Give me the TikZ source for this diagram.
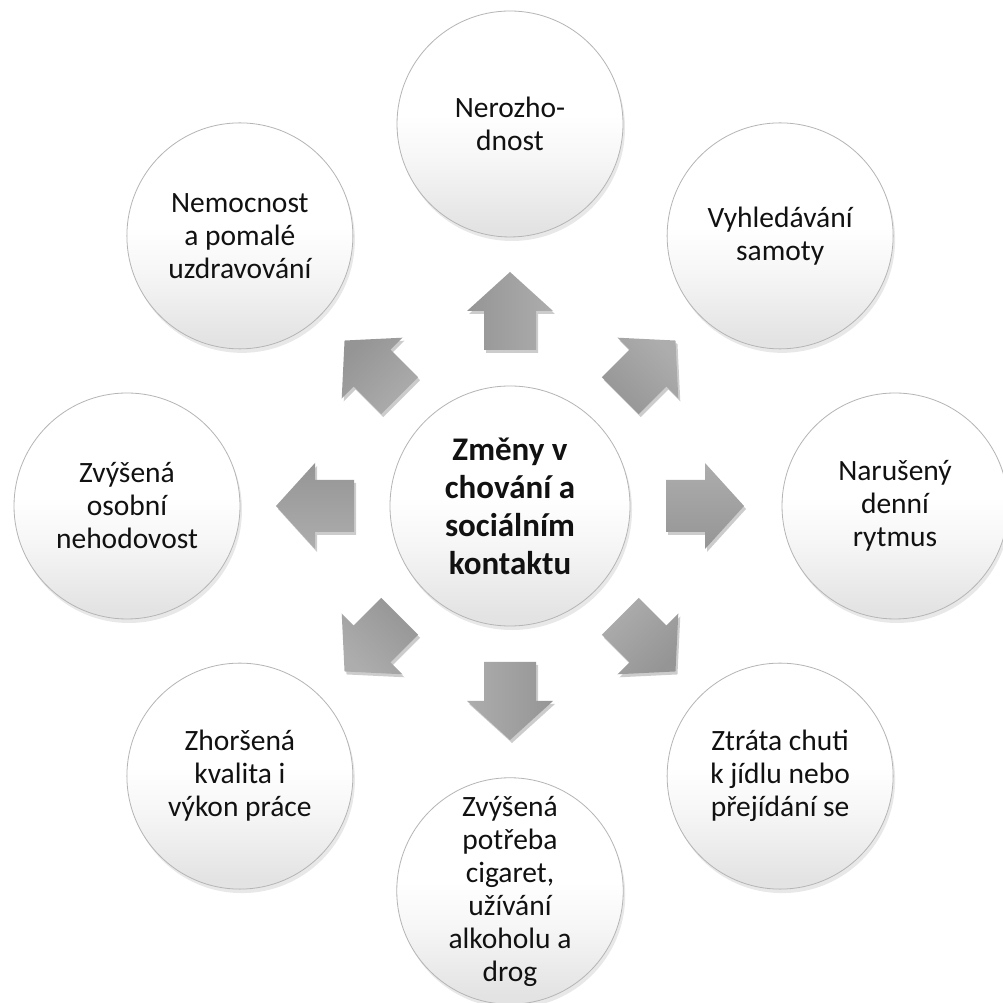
\documentclass[tikz,border=0pt]{standalone}
\usepackage{fontspec}
\setmainfont{Carlito}
\usetikzlibrary{shadows}
\definecolor{arrowtop}{HTML}{ADADAD}
\definecolor{arrowbot}{HTML}{959595}
\definecolor{ringline}{HTML}{B5B5B5}
\definecolor{bubblemid}{HTML}{F6F6F6}
\definecolor{bubblebot}{HTML}{E3E3E3}
\definecolor{textcol}{HTML}{111111}
\pgfdeclareverticalshading{bubbleshade}{100bp}{color(0bp)=(bubblebot); color(27bp)=(bubblebot); color(42bp)=(bubblemid); color(52bp)=(white); color(100bp)=(white)}
\begin{document}
\begin{tikzpicture}[x=1pt,y=1pt,
  bubble/.style={circle, draw=ringline, line width=0.8pt, shading=bubbleshade,
    minimum size=226pt, inner sep=0pt, align=center,
    text=textcol, font=\fontsize{29.5}{33}\selectfont,
    drop shadow={shadow xshift=2pt, shadow yshift=-4pt, opacity=0.18}},
  hub/.style={bubble, minimum size=240pt, font=\bfseries\fontsize{33}{38}\selectfont},
  arrowshadow/.style={fill=black, opacity=0.2, draw=none},
  blockarrow/.style={top color=arrowtop, bottom color=arrowbot, draw=none}
]
\useasboundingbox (0,0) rectangle (1003,1003);
\fill[white] (0,0) rectangle (1003,1003);

\node[hub] (c) at (510,497) {Změny v\\chování a\\sociálním\\kontaktu};

% block arrows
\foreach \a in {90,45,0,-45,-90,-135,180,135}{
  \begin{scope}[shift={(c.center)}, shift={(\a:195)}, shift={(2,-3)}, rotate=\a]
    \fill[arrowshadow] (-39,-26) -- (0,-26) -- (0,-43) -- (39,0) -- (0,43) -- (0,26) -- (-39,26) -- cycle;
  \end{scope}
  \begin{scope}[shift={(c.center)}, shift={(\a:195)}, rotate=\a]
    \shade[blockarrow, shading angle=-\a] (-39,-26) -- (0,-26) -- (0,-43) -- (39,0) -- (0,43) -- (0,26) -- (-39,26) -- cycle;
  \end{scope}
}

% outer bubbles
\path (c.center) ++(90:382) node[bubble] (n1) {Nerozho-\\dnost};
\path (c.center) ++(45:382) node[bubble] (n2) {Vyhledávání\\samoty};
\path (c.center) ++(0:385) node[bubble] (n3) {Narušený\\denní\\rytmus};
\path (c.center) ++(-45:382) node[bubble] (n4) {Ztráta chuti\\k jídlu nebo\\přejídání se};
\path (c.center) ++(-90:385) node[bubble] (n5) {Zvýšená\\potřeba\\cigaret,\\užívání\\alkoholu a\\drog};
\path (c.center) ++(-135:382) node[bubble] (n6) {Zhoršená\\kvalita i\\výkon práce};
\path (c.center) ++(180:383) node[bubble] (n7) {Zvýšená\\osobní\\nehodovost};
\path (c.center) ++(135:382) node[bubble] (n8) {Nemocnost\\a pomalé\\uzdravování};
\end{tikzpicture}
\end{document}
